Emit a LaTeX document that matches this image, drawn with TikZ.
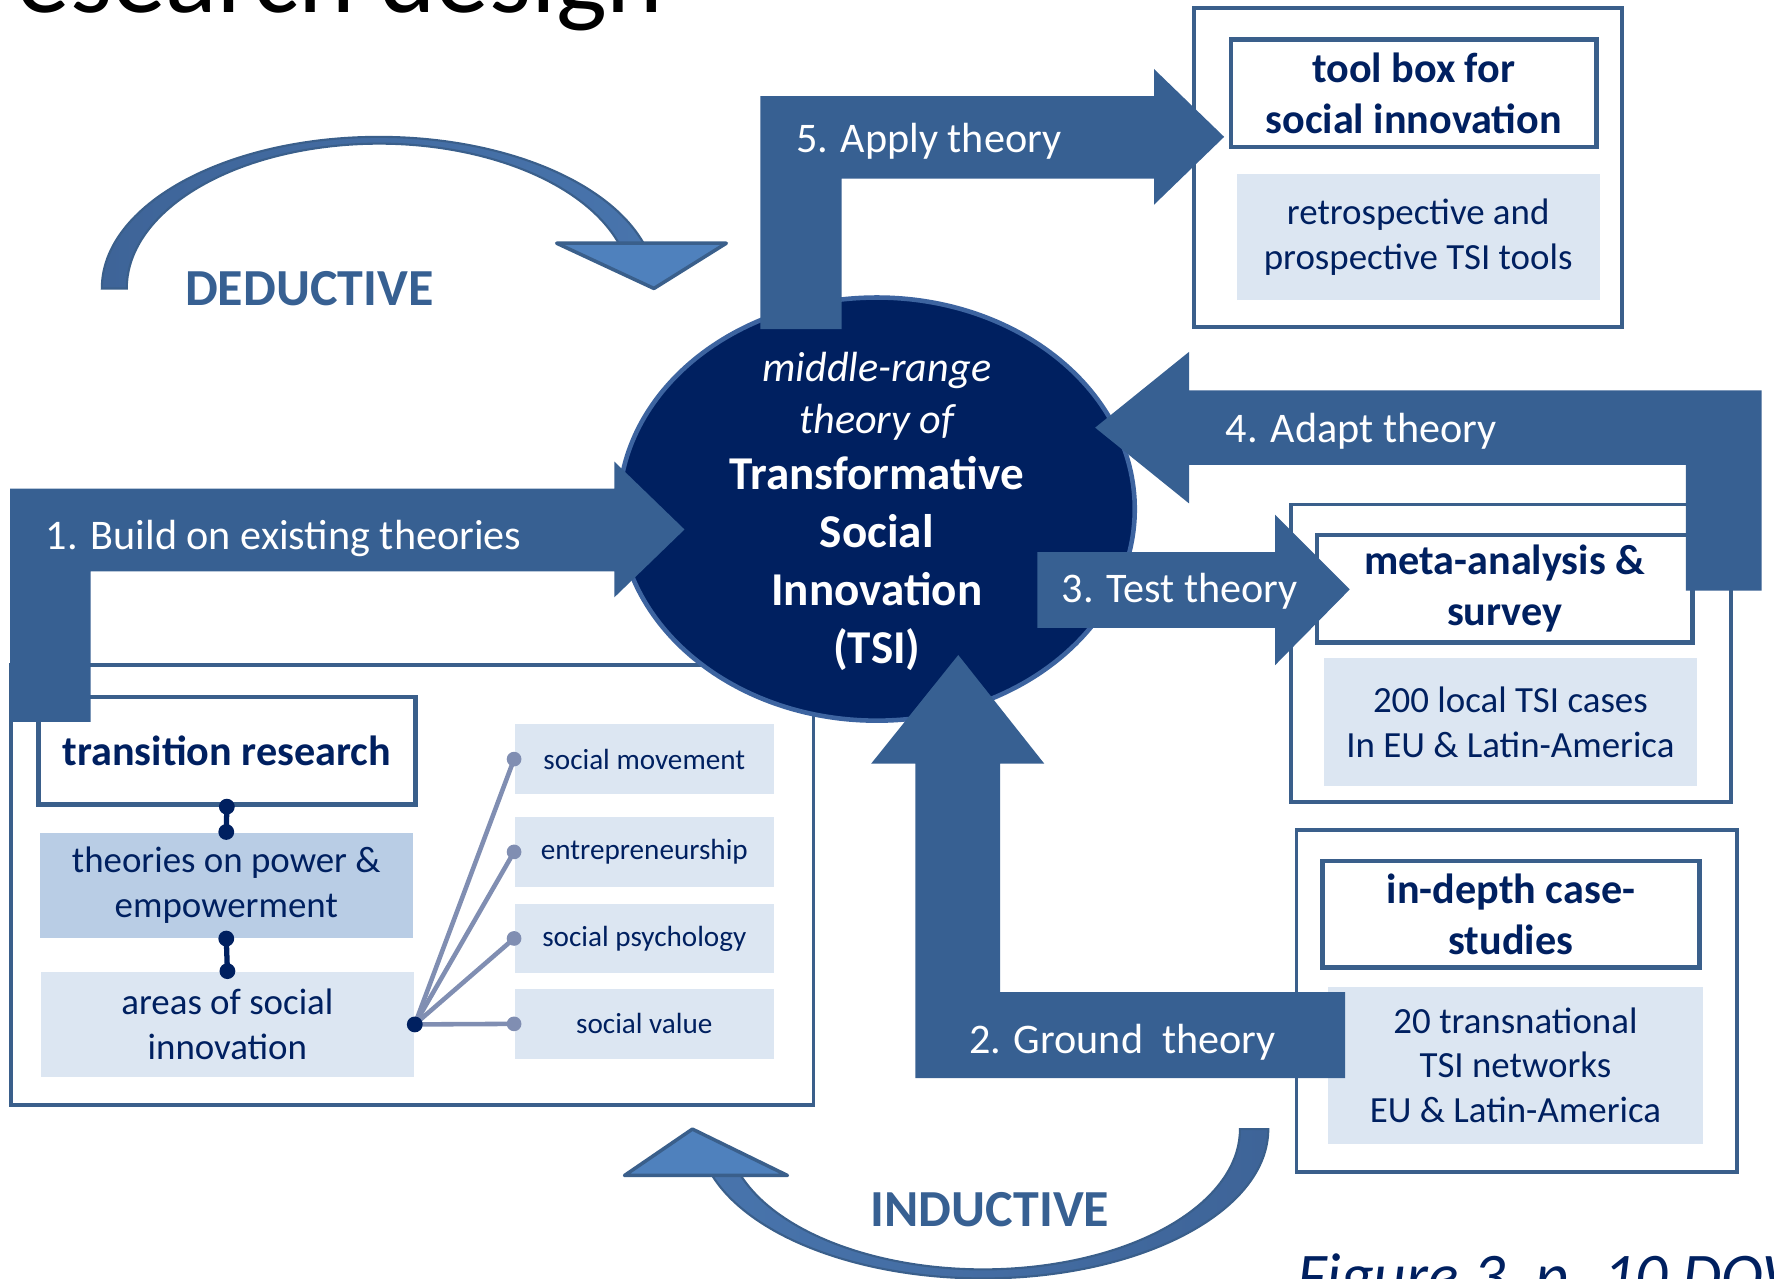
\documentclass[tikz,border=0pt]{standalone}
\usepackage{fontspec}
\setmainfont{Carlito}
\usetikzlibrary{shapes.geometric}

\definecolor{tsiblue}{RGB}{55,96,146}
\definecolor{tsinavy}{RGB}{0,32,96}
\definecolor{tsiedge}{RGB}{58,95,139}
\definecolor{tsilight}{RGB}{220,230,242}
\definecolor{tsimid}{RGB}{185,205,229}
\definecolor{tsigrey}{RGB}{128,142,178}
\definecolor{tsihead}{RGB}{79,129,189}
\definecolor{tsishaft}{RGB}{72,116,172}
\definecolor{tsishaftdark}{RGB}{62,100,152}
\definecolor{tsiring}{RGB}{61,100,160}

\tikzstyle{groupframe} = [draw=tsiedge, line width=1.1pt]
\tikzstyle{headline} = [rectangle, draw=tsiedge, line width=1.3pt, fill=white, inner sep=0pt, align=center, text=tsinavy, font=\fontsize{12}{14.5}\selectfont\bfseries]
\tikzstyle{infobox} = [rectangle, fill=tsilight, inner sep=0pt, align=center, text=tsinavy, font=\fontsize{10.5}{12.7}\selectfont]
\tikzstyle{areabox} = [rectangle, fill=tsilight, inner sep=0pt, align=center, text=tsinavy, font=\fontsize{8.3}{10}\selectfont]
\tikzstyle{core} = [ellipse, fill=tsinavy, draw=tsiring, line width=1.3pt, inner sep=0pt]
\tikzstyle{coretext} = [inner sep=0pt, align=center, text=white, font=\fontsize{13.4}{16.5}\selectfont\bfseries]
\tikzstyle{block} = [fill=tsiblue]
\tikzstyle{blocklabel} = [anchor=west, inner sep=0pt, text=white, font=\fontsize{12}{14}\selectfont]
\tikzstyle{navylink} = [draw=tsinavy, line width=1.5pt]
\tikzstyle{greylink} = [draw=tsigrey, line width=1.3pt]
\tikzstyle{bendshaft} = [draw=tsiedge, line width=0.6pt]
\tikzstyle{bendhead} = [fill=tsihead, draw=tsiedge, line width=1pt, line join=round]
\tikzstyle{modelabel} = [inner sep=0pt, text=tsiblue, font=\fontsize{14.8}{17}\selectfont\bfseries]
\tikzset{boxsize/.style 2 args={minimum width=#1*0.11314mm, minimum height=#2*0.11314mm}}

\begin{document}
\begin{tikzpicture}[x=0.11314mm, y=0.11314mm]
  \useasboundingbox (0,0) rectangle (1568,1130);
  \clip (0,0) rectangle (1568,1130);

  % slide title and caption, both cut by the page
  \node (title) [anchor=base west, inner sep=0pt, font=\fontsize{30.6}{34}\selectfont] at (14,1119) {esearch design};
  \node (caption) [anchor=base west, inner sep=0pt, text=tsinavy, font=\fontsize{18.1}{21}\selectfont\itshape] at (1146,-17) {Figure 3, p. 10 DOW};

  % frames
  \draw[groupframe] (10,153) rectangle (719,542);
  \draw[groupframe] (1055,841) rectangle (1434,1123);
  \draw[groupframe] (1141,421) rectangle (1530,684);
  \draw[groupframe] (1146,94) rectangle (1535,396);

  % boxes
  \node (tools) [headline, boxsize={323}{95}] at (1249.5,1047.5) {tool box for\\ social innovation};
  \node (retro) [infobox, boxsize={321}{111}] at (1253.5,920.5) {retrospective and\\ prospective TSI tools};
  \node (meta) [headline, boxsize={332}{95}] at (1330,609.5) {meta-analysis \&\\ survey};
  \node (cases) [infobox, boxsize={330}{113}] at (1335,491.5) {200 local TSI cases\\ In EU \& Latin-America};
  \node (depth) [headline, boxsize={333}{94}] at (1335.5,322) {in-depth case-\\ studies};
  \node (nets) [infobox, boxsize={331}{139}] at (1339.5,188.5) {20 transnational\\ TSI networks\\ EU \& Latin-America};
  \node (trans) [headline, boxsize={333}{95}] at (200.5,466.5) {transition research};
  \node (power) [infobox, fill=tsimid, boxsize={330}{93}] at (200,347.5) {theories on power \&\\ empowerment};
  \node (areas) [infobox, boxsize={330}{93}] at (201,224.5) {areas of social\\ innovation};
  \node (move) [areabox, boxsize={229}{62}] at (569.5,459) {social movement};
  \node (entre) [areabox, boxsize={229}{62}] at (569.5,377) {entrepreneurship};
  \node (psych) [areabox, boxsize={229}{61}] at (569.5,300.5) {social psychology};
  \node (value) [areabox, boxsize={229}{62}] at (569.5,225) {social value};

  % links
  \draw[navylink] (trans.south) -- (power.north);
  \draw[navylink] (power.south) -- (areas.north);
  \foreach \n in {trans.south, power.north, power.south, areas.north}
    \fill[tsinavy] (\n) circle[radius=7];
  \foreach \n in {move, entre, psych, value} {
    \draw[greylink] (areas.east) -- (\n.west);
    \fill[tsigrey] (\n.west) circle[radius=6.5];
  }
  \fill[tsinavy] (areas.east) circle[radius=7];

  % centre
  \node (tsi) [core, boxsize={456}{374}] at (775,680) {};
  \node (tsitext) [coretext] at ([yshift=-0.6pt]tsi.center) {{\fontsize{12}{14.8}\selectfont\mdseries\itshape middle-range}\\[-1.6pt] {\fontsize{12}{14.8}\selectfont\mdseries\itshape theory of}\\[-0.8pt] Transformative\\ Social\\ Innovation\\ (TSI)};

  % block arrows
  \fill[block] (9,492) -- (9,698) -- (543,698) -- (543,722) -- (605,662) -- (543,602) -- (543,625) -- (80,625) -- (80,492) -- cycle;
  \fill[block] (1189,177) -- (809,177) -- (809,455) -- (770,455) -- (847,551) -- (923,455) -- (884,455) -- (884,253) -- (1189,253) -- cycle;
  \fill[block] (917,642) -- (1127,642) -- (1127,675) -- (1193,609) -- (1127,542) -- (1127,575) -- (917,575) -- cycle;
  \fill[block] (1557,608) -- (1557,785) -- (1051,785) -- (1051,819) -- (968,752) -- (1051,685) -- (1051,719) -- (1490,719) -- (1490,608) -- cycle;
  \fill[block] (672,839) -- (672,1045) -- (1020,1045) -- (1020,1069) -- (1082,1009) -- (1020,949) -- (1020,972) -- (744,972) -- (744,839) -- cycle;

  \node (build) [blocklabel] at (40,654) {1. Build on existing theories};
  \node (ground) [blocklabel] at (856,209) {2. Ground\ \ theory};
  \node (test) [blocklabel] at (938,607) {3. Test theory};
  \node (adapt) [blocklabel] at (1083,749) {4. Adapt theory};
  \node (apply) [blocklabel] at (703,1005) {5. Apply theory};

  % deductive / inductive
  \draw[bendshaft, left color=tsishaftdark, right color=tsishaft] (90,875) arc[start angle=180, end angle=17, x radius=245, y radius=134]
    -- (548.3,912.4) arc[start angle=17, end angle=180, x radius=223, y radius=128] -- cycle;
  \draw[bendhead] (492,915) -- (642,915) -- (578,875) -- cycle;
  \node (deduct) [modelabel] at (273.5,875) {DEDUCTIVE};

  \draw[bendshaft, left color=tsishaft, right color=tsishaftdark] (1121,132) arc[start angle=0, end angle=-162, x radius=252, y radius=132]
    -- (653.1,93.7) arc[start angle=-162, end angle=0, x radius=227, y radius=124] -- cycle;
  \draw[bendhead] (552,91) -- (696,91) -- (612,132) -- cycle;
  \node (induct) [modelabel] at (875,61) {INDUCTIVE};
\end{tikzpicture}
\end{document}
